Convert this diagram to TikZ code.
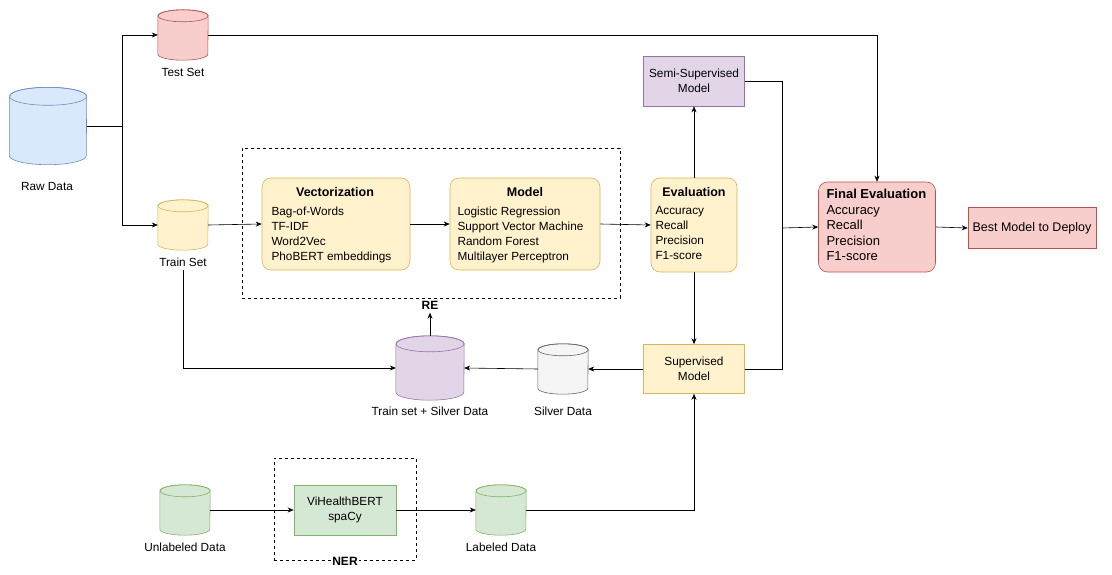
\documentclass[tikz,border=0pt]{standalone}
\usepackage{fontspec}
\setmainfont{Liberation Sans}
\usetikzlibrary{arrows.meta}
\definecolor{rf}{HTML}{F8CECC}\definecolor{rs}{HTML}{B85450}
\definecolor{bf}{HTML}{DAE8FC}\definecolor{bs}{HTML}{6C8EBF}
\definecolor{yf}{HTML}{FFF2CC}\definecolor{ys}{HTML}{D6B656}
\definecolor{pf}{HTML}{E1D5E7}\definecolor{ps}{HTML}{9673A6}
\definecolor{gf}{HTML}{D5E8D4}\definecolor{gs}{HTML}{82B366}
\definecolor{nf}{HTML}{F5F5F5}\definecolor{ns}{HTML}{666666}
\newcommand{\drawcyl}[5]{% name, fill, stroke, rx(pt), ry(pt)
  \path[fill=#2,draw=#3,line width=0.6pt] ([yshift=-#5]#1.north west) -- ([yshift=#5]#1.south west)
    arc[start angle=180,end angle=360,x radius=#4,y radius=#5] -- ([yshift=-#5]#1.north east)
    arc[start angle=0,end angle=180,x radius=#4,y radius=#5] -- cycle;
  \draw[#3,line width=0.6pt] ([yshift=-#5]#1.north) ellipse[x radius=#4,y radius=#5];}
\begin{document}
\begin{tikzpicture}[x=1pt,y=-1pt,
  every node/.style={font=\fontsize{11.8}{15}\selectfont},
  cyl/.style={inner sep=0pt,minimum width=#1},
  box/.style={draw,align=center,inner sep=2pt,line width=0.6pt},
  rbox/.style={draw,rounded corners=9pt,line width=0.6pt},
  tl/.style={align=left,anchor=north west},
  arr/.style={-{Stealth[length=6pt,width=5pt]},line width=0.6pt},
  dbox/.style={draw,dashed,line width=0.6pt}]
\useasboundingbox (0,0) rectangle (1112,575);
% containers
\node[dbox,minimum width=378,minimum height=150] (re) at (431,223) {};
\node[dbox,minimum width=142,minimum height=102] (ner) at (345,509) {};
\node[font=\bfseries\fontsize{12}{14}\selectfont] (relab) at (430,305) {RE};
\node[font=\bfseries\fontsize{12}{14}\selectfont,fill=white,inner sep=1pt] (nerlab) at (345,561) {NER};
% cylinders
\node[cyl=50,minimum height=50] (test) at (183,35) {}; \drawcyl{test}{rf}{rs}{25pt}{6pt}
\node at (183,72) (testl) {Test Set};
\node[cyl=77,minimum height=77] (raw) at (48,126) {}; \drawcyl{raw}{bf}{bs}{38.5pt}{9pt}
\node at (47,186) (rawl) {Raw Data};
\node[cyl=50,minimum height=50] (train) at (183,225) {}; \drawcyl{train}{yf}{ys}{25pt}{6pt}
\node at (183,262) (trainl) {Train Set};
\node[cyl=68,minimum height=64] (ts) at (430,368) {}; \drawcyl{ts}{pf}{ps}{34pt}{8pt}
\node at (430,411) (tsl) {Train set + Silver Data};
\node[cyl=50,minimum height=50] (silver) at (563,369) {}; \drawcyl{silver}{nf}{ns}{25pt}{6pt}
\node at (563,411) (silverl) {Silver Data};
\node[cyl=50,minimum height=50] (unl) at (185,510) {}; \drawcyl{unl}{gf}{gs}{25pt}{6pt}
\node at (185,547) (unll) {Unlabeled Data};
\node[cyl=50,minimum height=50] (lab) at (501,510) {}; \drawcyl{lab}{gf}{gs}{25pt}{6pt}
\node at (501,547) (labl) {Labeled Data};
% boxes
\node[rbox,fill=yf,draw=ys,minimum width=148,minimum height=92] (vec) at (336,224) {};
\node[font=\bfseries\fontsize{12.5}{15}\selectfont] (vech) at (335,192) {Vectorization};
\node[tl] (vect) at (268,203) {Bag-of-Words\\TF-IDF\\Word2Vec\\PhoBERT embeddings};
\node[rbox,fill=yf,draw=ys,minimum width=150,minimum height=92] (mod) at (525,224) {};
\node[font=\bfseries\fontsize{12.5}{15}\selectfont] (modh) at (525,192) {Model};
\node[tl] (modt) at (454,203) {Logistic Regression\\Support Vector Machine\\Random Forest\\Multilayer Perceptron};
\node[rbox,fill=yf,draw=ys,minimum width=86,minimum height=94] (ev) at (694,225) {};
\node[font=\bfseries\fontsize{12.5}{15}\selectfont] (evh) at (694,192) {Evaluation};
\node[tl] (evt) at (652,203) {Accuracy\\Recall\\Precision\\F1-score};
\node[rbox,fill=rf,draw=rs,minimum width=117,minimum height=90] (fe) at (877,227) {};
\node[tl,font=\fontsize{13}{15.5}\selectfont] (fet) at (823,186) {\textbf{Final Evaluation}\\Accuracy\\Recall\\Precision\\F1-score};
\node[box,fill=rf,draw=rs,minimum width=128,minimum height=41,font=\fontsize{12.5}{14}\selectfont] (best) at (1032,228) {Best Model to Deploy};
\node[box,fill=pf,draw=ps,minimum width=101,minimum height=50] (semi) at (694,81) {Semi-Supervised\\Model};
\node[box,fill=yf,draw=ys,minimum width=101,minimum height=49] (sup) at (694,369) {Supervised\\Model};
\node[box,fill=gf,draw=gs,minimum width=102,minimum height=50] (vh) at (345,510) {ViHealthBERT\\spaCy};
% edges
\coordinate (j1) at (122,126);
\draw[line width=0.6pt] (raw.east) -- (j1);
\draw[arr] (j1) |- (test.west);
\draw[arr] (j1) |- (train.west);
\draw[arr] (test.east) -| (fe.north);
\draw[arr] (train.east) -- (vec.west);
\draw[arr] (vec.east) -- (mod.west);
\draw[arr] (mod.east) -- (ev.west);
\draw[arr] (ev.north) -- (semi.south);
\draw[arr] (ev.south) -- (sup.north);
\coordinate (j2) at (782,228);
\draw[line width=0.6pt] (semi.east) -| (j2);
\draw[line width=0.6pt] (sup.east) -| (j2);
\draw[arr] (j2) -- (fe.west);
\draw[arr] (fe.east) -- (best.west);
\draw[arr] (sup.west) -- (silver.east);
\draw[arr] (silver.west) -- (ts.east);
\draw[arr] (trainl.south) |- (ts.west);
\draw[arr] (ts.north) -- (relab.south);
\draw[arr] (unl.east) -- (vh.west);
\draw[arr] (vh.east) -- (lab.west);
\draw[arr] (lab.east) -| (sup.south);
\end{tikzpicture}
\end{document}
